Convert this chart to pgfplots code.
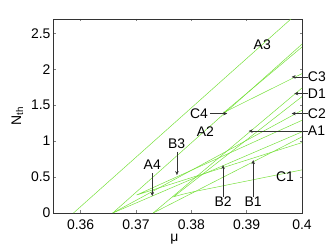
\documentclass[border=0pt]{standalone}
\usepackage{pgfplots}
\pgfplotsset{compat=1.18}
\usepackage{fontspec}
\setmainfont{Liberation Sans}
\usetikzlibrary{arrows.meta}
\definecolor{lg}{RGB}{120,225,60}
\tikzset{lab/.style={inner sep=0pt, font=\fontsize{14}{16}\selectfont},
  arr/.style={-{Stealth[length=4bp,width=3.5bp]}, black!80, line width=0.4pt}}
\begin{document}
\begin{tikzpicture}[x=1bp,y=1bp]
\begin{axis}[
  scale only axis, width=249bp, height=194bp,
  xmin=0.355, xmax=0.4, ymin=0, ymax=2.7,
  xtick={0.36,0.37,0.38,0.39,0.4},
  xticklabels={0.36,0.37,0.38,0.39,0.4},
  ytick={0,0.5,1,1.5,2,2.5},
  yticklabels={0,0.5,1,1.5,2,2.5},
  tick align=inside, major tick length=2.5bp,
  tick style={black!50, line width=0.4pt},
  axis line style={black!80, line width=0.6pt},
  font=\fontsize{14}{16}\selectfont,
  /pgf/number format/assume math mode=true,
  xticklabel style={yshift=-3bp},
  yticklabel style={xshift=1bp},
  xlabel={μ}, ylabel={N\textsubscript{th}},
  xlabel style={yshift=2bp, xshift=-3bp},
  ylabel style={yshift=1bp},
  cycle list={{lg,solid,line width=0.5pt},{lg,solid,line width=0.5pt}},
  every axis plot post/.append style={lg, solid, line width=0.5pt, mark=none},
  clip=false,
]
% A3
\addplot coordinates {(0.3587,0) (0.3980,2.7)};
% A2
\addplot coordinates {(0.3658,0) (0.4,2.35)};
% fan from 0.3658
\addplot coordinates {(0.3658,0) (0.4,1.43)};
\addplot coordinates {(0.3658,0) (0.4,1.13)};
% A1 and B1 from 0.3731
\addplot coordinates {(0.3731,0) (0.4,1.74)};
\addplot coordinates {(0.3731,0) (0.4,1.06)};
% C1 cusp
\addplot coordinates {(0.4,0.60) (0.3804,0.296) (0.3785,0.262) (0.3768,0.226) (0.4,1.62)};
% C4 cusp
\addplot coordinates {(0.4,2.31) (0.3859,1.40) (0.4,1.94)};
% small cusp near A4
\addplot coordinates {(0.4,1.29) (0.3701,0.25) (0.4,0.98)};

\coordinate (ll) at (rel axis cs:0,0);
\coordinate (ur) at (rel axis cs:1,1);
% labels
\node[lab] at (axis cs:0.39282,2.347) {A3};
\node[lab] at (axis cs:0.38255,1.13) {A2};
\node[lab] at (axis cs:0.3814,1.384) {C4};
\draw[arr] (axis cs:0.38333,1.384) -- (axis cs:0.38649,1.384);
\node[lab] at (axis cs:0.37733,0.968) {B3};
\draw[arr] (axis cs:0.3774,0.852) -- (axis cs:0.3774,0.528);
\node[lab] at (axis cs:0.37294,0.667) {A4};
\draw[arr] (axis cs:0.37294,0.551) -- (axis cs:0.37294,0.236);
\node[lab] at (axis cs:0.38573,0.157) {B2};
\draw[arr] (axis cs:0.38573,0.22) -- (axis cs:0.38573,0.667);
\node[lab] at (axis cs:0.39118,0.157) {B1};
\draw[arr] (axis cs:0.39118,0.22) -- (axis cs:0.39118,0.736);
\node[lab] at (axis cs:0.39694,0.504) {C1};
% right side labels
\node[lab, anchor=west] at (axis cs:0.40104,1.894) {C3};
\draw[arr] (axis cs:0.40104,1.894) -- (axis cs:0.39813,1.894);
\node[lab, anchor=west] at (axis cs:0.40104,1.662) {D1};
\draw[arr] (axis cs:0.40104,1.662) -- (axis cs:0.39860,1.662);
\node[lab, anchor=west] at (axis cs:0.40104,1.384) {C2};
\draw[arr] (axis cs:0.40104,1.384) -- (axis cs:0.39813,1.384);
\node[lab, anchor=west] at (axis cs:0.40104,1.14) {A1};
\draw[arr] (axis cs:0.40104,1.14) -- (axis cs:0.39036,1.14);
\end{axis}
\pgfresetboundingbox
\path[use as bounding box] ([xshift=-53bp,yshift=-37bp]ll) rectangle ([xshift=30bp,yshift=19bp]ur);
\end{tikzpicture}
\end{document}
